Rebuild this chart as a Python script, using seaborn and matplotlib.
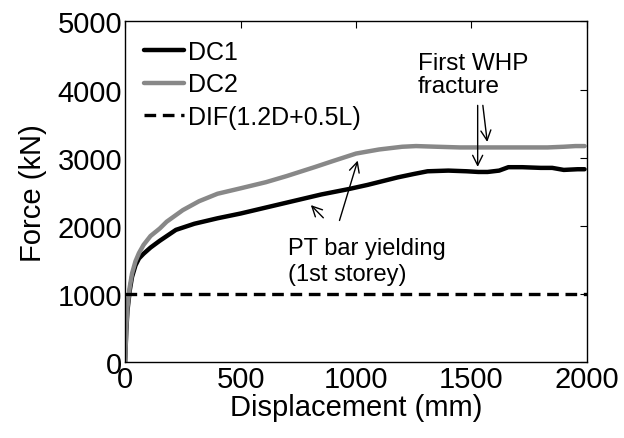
import matplotlib
matplotlib.use("Agg")
import matplotlib.pyplot as plt
import seaborn as sns
import pandas as pd

sns.set_theme(style="white")
plt.rcParams['font.family'] = ['Liberation Sans', 'DejaVu Sans']

dc1_disp = [0, 5, 10, 20, 30, 45, 60, 80, 110, 150, 220, 300, 400, 500, 600, 750, 850, 970,
            1050, 1180, 1250, 1310, 1400, 1480, 1530, 1570, 1620, 1660, 1720, 1800, 1850, 1900, 1960, 1990]
dc1_force = [0, 450, 750, 1050, 1250, 1420, 1520, 1590, 1680, 1780, 1940, 2030, 2110, 2180, 2260, 2380, 2460, 2540,
             2600, 2710, 2760, 2800, 2810, 2800, 2790, 2790, 2810, 2860, 2860, 2850, 2850, 2820, 2830, 2830]
dc2_disp = [0, 5, 10, 20, 30, 45, 60, 80, 110, 150, 180, 250, 320, 400, 500, 610, 700, 820, 900,
            1000, 1100, 1200, 1260, 1350, 1450, 1530, 1650, 1750, 1830, 1900, 1950, 1990]
dc2_force = [0, 500, 800, 1100, 1300, 1480, 1600, 1720, 1850, 1960, 2060, 2230, 2360, 2470, 2550, 2640, 2730, 2860, 2950,
             3060, 3120, 3160, 3170, 3160, 3150, 3150, 3150, 3150, 3150, 3160, 3170, 3170]
dif_disp = [0, 2000]
dif_force = [1000, 1000]

x_ticks = [0, 500, 1000, 1500, 2000]
y_ticks = [0, 1000, 2000, 3000, 4000, 5000]

fig = plt.figure(figsize=(6.24, 4.39), dpi=100)
ax = fig.add_axes([0.2005, 0.173, 0.740, 0.776])

sns.lineplot(x=dc1_disp, y=dc1_force, ax=ax, color='black', lw=3.2, label='DC1', sort=False)
sns.lineplot(x=dc2_disp, y=dc2_force, ax=ax, color='#888888', lw=3.2, label='DC2', sort=False)
sns.lineplot(x=dif_disp, y=dif_force, ax=ax, color='black', lw=2.4, ls=(0, (3.5, 2)), label='DIF(1.2D+0.5L)')

ax.set_xlim(0, 2000)
ax.set_ylim(0, 5000)
ax.set_xticks(x_ticks)
ax.set_yticks(y_ticks)
ax.tick_params(direction='in', length=5, width=0.8, top=True, right=True, labelsize=21,
               colors='black', pad=2)
for s in ax.spines.values():
    s.set_color('black')
    s.set_linewidth(1.0)
ax.set_xlabel('Displacement (mm)', fontsize=21, labelpad=0, color='black')
ax.set_ylabel('Force (kN)', fontsize=21, labelpad=8, color='black')

leg = ax.legend(loc='upper left', frameon=False, fontsize=18, handlelength=1.6,
                handletextpad=0.15, labelspacing=0.33, borderaxespad=0.35)
for t in leg.get_texts():
    t.set_color('black')

ap = dict(arrowstyle='->', color='black', lw=1.0, mutation_scale=18)
ax.text(705, 1480, 'PT bar yielding\n(1st storey)', fontsize=17, ha='left', va='center',
        color='black', linespacing=1.25)
ax.annotate('', xy=(796, 2333), xytext=(867, 2088), arrowprops=ap)
ax.annotate('', xy=(1011, 2996), xytext=(925, 2039), arrowprops=ap)

ax.text(1268, 4224, 'First WHP\nfracture', fontsize=17.5, ha='left', va='center', color='black',
        linespacing=1.05)
ax.annotate('', xy=(1527, 2824), xytext=(1527, 3808), arrowprops=ap)
ax.annotate('', xy=(1570, 3190), xytext=(1548, 3808), arrowprops=ap)

fig.savefig('out.png', dpi=100)
